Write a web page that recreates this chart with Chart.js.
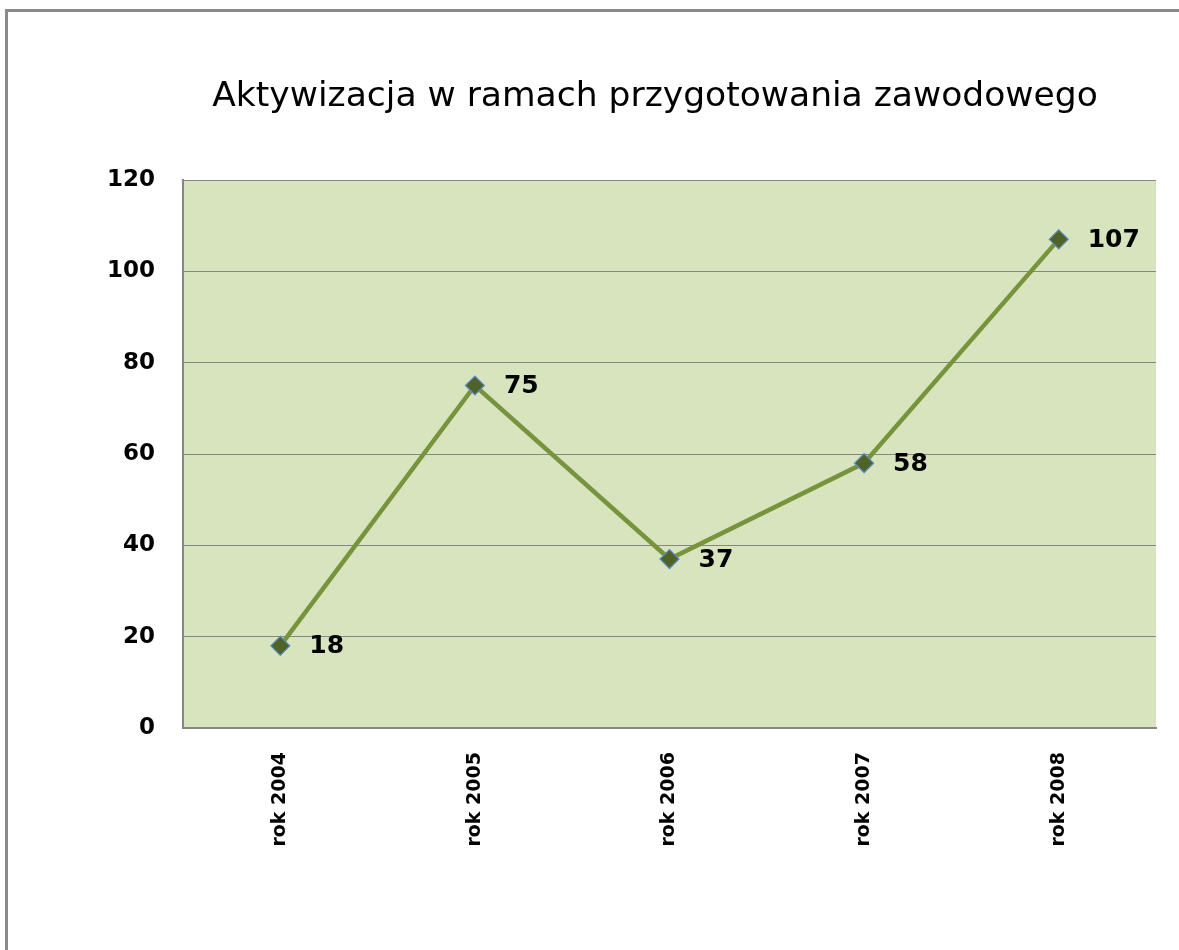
<!DOCTYPE html>
<html>
<head>
<meta charset="utf-8">
<script src="https://cdn.jsdelivr.net/npm/chart.js@4/dist/chart.umd.min.js"></script>
<style>
  html, body { margin: 0; padding: 0; background: #ffffff; }
  #wrap { position: relative; width: 1179px; height: 950px; overflow: hidden; }
  #frame { position: absolute; left: 5px; top: 9px; width: 1300px; height: 1100px; border: 3px solid #8a8a8a; box-sizing: border-box; }
  #c { position: absolute; left: 0; top: 0; }
</style>
</head>
<body>
<div id="wrap">
  <div id="frame"></div>
  <canvas id="c" width="1179" height="950"></canvas>
</div>
<script>
const titleText = 'Aktywizacja w ramach przygotowania zawodowego';
const categories = ['rok 2004', 'rok 2005', 'rok 2006', 'rok 2007', 'rok 2008'];
const values = [18, 75, 37, 58, 107];
const yTicks = [0, 20, 40, 60, 80, 100, 120];

const plotBg = {
  id: 'plotBg',
  beforeDraw(chart) {
    const { ctx, chartArea: a } = chart;
    ctx.save();
    ctx.fillStyle = '#d7e4bd';
    ctx.fillRect(a.left, a.top, a.right - a.left, a.bottom - a.top);
    ctx.restore();
  }
};

const titleShift = {
  id: 'titleShift',
  afterLayout(chart) {
    const tb = chart.titleBlock;
    if (tb) { tb.left += 77; tb.right += 77; }
  }
};

const valueLabels = {
  id: 'valueLabels',
  afterDatasetsDraw(chart) {
    const { ctx } = chart;
    const meta = chart.getDatasetMeta(0);
    ctx.save();
    ctx.font = 'bold 25px "DejaVu Sans"';
    ctx.fillStyle = '#000000';
    ctx.textAlign = 'left';
    ctx.textBaseline = 'middle';
    meta.data.forEach((pt, i) => {
      ctx.fillText(String(values[i]), pt.x + 29, pt.y + 1);
    });
    ctx.restore();
  }
};

new Chart(document.getElementById('c'), {
  type: 'line',
  data: {
    labels: categories,
    datasets: [{
      data: values,
      borderColor: '#77933c',
      borderWidth: 4.5,
      tension: 0,
      pointStyle: 'rectRot',
      pointRadius: 9.5,
      pointBackgroundColor: '#4f6228',
      pointBorderColor: '#5b8bc0',
      pointBorderWidth: 1.2,
      fill: false
    }]
  },
  options: {
    responsive: false,
    animation: false,
    devicePixelRatio: 1,
    layout: { padding: { left: 0, right: 23, top: 0, bottom: 0 } },
    plugins: {
      legend: { display: false },
      tooltip: { enabled: false },
      title: {
        display: true,
        text: titleText,
        color: '#000000',
        font: { family: '"DejaVu Sans"', size: 34.5, weight: 'normal' },
        padding: { top: 76, bottom: 62.6 }
      }
    },
    scales: {
      x: {
        offset: true,
        grid: { display: false, drawTicks: false },
        border: { display: true, color: '#868686', width: 2 },
        ticks: {
          autoSkip: false,
          minRotation: 90,
          maxRotation: 90,
          padding: 24,
          color: '#000000',
          font: { family: '"DejaVu Sans"', size: 19, weight: 'bold' }
        },
        afterFit(scale) { scale.height = 222; }
      },
      y: {
        min: 0,
        max: 120,
        afterBuildTicks(scale) { scale.ticks = yTicks.map(v => ({ value: v })); },
        grid: { color: '#868686', lineWidth: 1, drawTicks: false },
        border: { display: true, color: '#868686', width: 2 },
        ticks: {
          padding: 28,
          color: '#000000',
          font: { family: '"DejaVu Sans"', size: 23, weight: 'bold' }
        },
        afterFit(scale) { scale.width = 183; }
      }
    }
  },
  plugins: [plotBg, titleShift, valueLabels]
});
</script>
</body>
</html>
